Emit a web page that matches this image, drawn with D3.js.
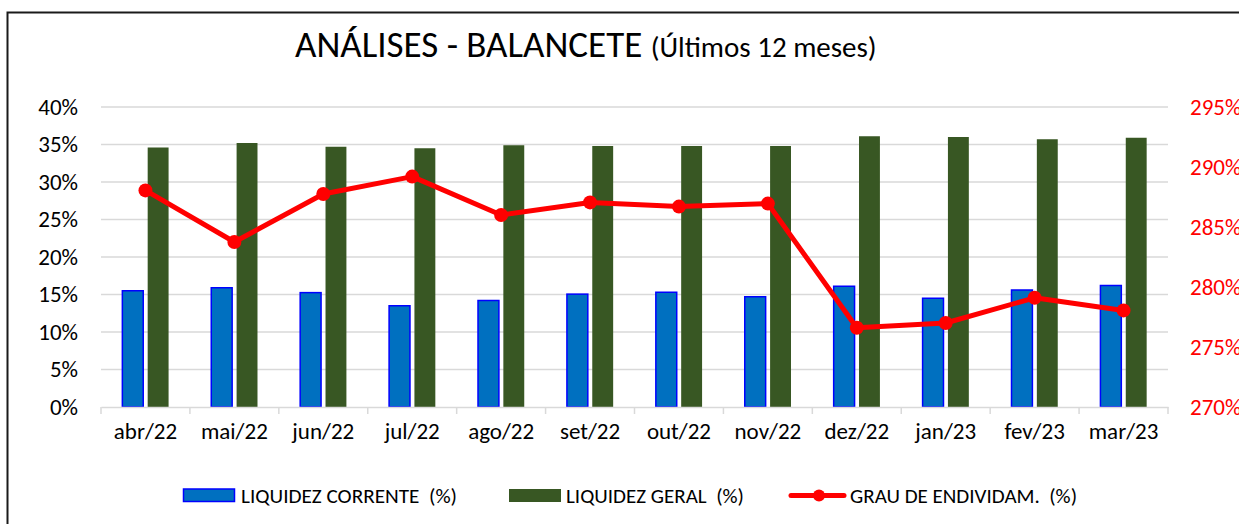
<!DOCTYPE html>
<html>
<head>
<meta charset="utf-8">
<script src="https://cdn.jsdelivr.net/npm/d3@7"></script>
<style>
  body { margin: 0; background: #fff; }
  svg { display: block; font-family: Carlito, Calibri, Lato, sans-serif; }
</style>
</head>
<body>
<svg id="chart"></svg>
<script>
const months = ["abr/22", "mai/22", "jun/22", "jul/22", "ago/22", "set/22",
  "out/22", "nov/22", "dez/22", "jan/23", "fev/23", "mar/23"];
const liquidezCorrente = [15.5, 15.9, 15.25, 13.5, 14.2, 15.05, 15.3, 14.7, 16.1, 14.5, 15.6, 16.2];
const liquidezGeral = [34.6, 35.2, 34.7, 34.5, 34.9, 34.8, 34.8, 34.8, 36.1, 36.0, 35.7, 35.9];
const grauEndividam = [288.05, 283.75, 287.75, 289.2, 286.0, 287.05, 286.7, 286.95, 276.6, 277.0, 279.1, 278.05];
const leftTicks = [0, 5, 10, 15, 20, 25, 30, 35, 40];
const rightTicks = [270, 275, 280, 285, 290, 295];
const seriesNames = ["LIQUIDEZ CORRENTE  (%)", "LIQUIDEZ GERAL  (%)", "GRAU DE ENDIVIDAM.  (%)"];

const colorLUT = {
  blue: "#0070c0",
  blueEdge: "#0000ff",
  green: "#385723",
  red: "#ff0000"
};

var width = 1239, height = 524;
var plot = { left: 101, right: 1168, top: 107, bottom: 407 };
var tickFont = "23px";

var svg = d3.select("#chart")
  .attr("width", width)
  .attr("height", height);

// chart frame
svg.append("path")
  .attr("d", "M7.5," + (height + 5) + "V12.5H" + (width + 5))
  .attr("fill", "none")
  .attr("stroke", "#1a1a1a")
  .attr("stroke-width", 2);

var xScale = d3.scaleBand()
  .domain(months)
  .range([plot.left, plot.right]);

var yLeft = d3.scaleLinear()
  .domain([0, 40])
  .range([plot.bottom, plot.top]);

var yRight = d3.scaleLinear()
  .domain([270, 295])
  .range([plot.bottom, plot.top]);

// gridlines
svg.append("g")
  .selectAll("line")
  .data(leftTicks.slice(1))
  .enter().append("line")
  .attr("x1", plot.left)
  .attr("x2", plot.right)
  .attr("y1", d => yLeft(d))
  .attr("y2", d => yLeft(d))
  .attr("stroke", "#d9d9d9")
  .attr("stroke-width", 1.5);

// left axis
var leftAxis = svg.append("g")
  .attr("transform", "translate(" + plot.left + ",0)")
  .call(d3.axisLeft(yLeft).tickValues(leftTicks).tickSize(0).tickPadding(23)
    .tickFormat(d => d + "%"));
leftAxis.select(".domain").remove();
leftAxis.selectAll("text")
  .attr("fill", "#000")
  .style("font-size", tickFont)
  .style("font-family", "Carlito, Calibri, Lato, sans-serif");

// right axis
var rightAxis = svg.append("g")
  .attr("transform", "translate(" + plot.right + ",0)")
  .call(d3.axisRight(yRight).tickValues(rightTicks).tickSize(0).tickPadding(22)
    .tickFormat(d => d + "%"));
rightAxis.select(".domain").remove();
rightAxis.selectAll("text")
  .attr("fill", colorLUT.red)
  .style("font-size", tickFont)
  .style("font-family", "Carlito, Calibri, Lato, sans-serif");

// bars
var bw = xScale.bandwidth();
var barW = bw * 0.235;
var gap = bw * 0.05;

svg.append("g")
  .selectAll("rect")
  .data(liquidezCorrente)
  .enter().append("rect")
  .attr("x", (d, i) => xScale(months[i]) + bw / 2 - gap / 2 - barW)
  .attr("y", d => yLeft(d))
  .attr("width", barW)
  .attr("height", d => plot.bottom - yLeft(d))
  .attr("fill", colorLUT.blue)
  .attr("stroke", colorLUT.blueEdge)
  .attr("stroke-width", 1.5);

svg.append("g")
  .selectAll("rect")
  .data(liquidezGeral)
  .enter().append("rect")
  .attr("x", (d, i) => xScale(months[i]) + bw / 2 + gap / 2)
  .attr("y", d => yLeft(d))
  .attr("width", barW)
  .attr("height", d => plot.bottom - yLeft(d))
  .attr("fill", colorLUT.green);

// bottom axis
var bottomAxis = svg.append("g")
  .attr("transform", "translate(0," + plot.bottom + ")")
  .call(d3.axisBottom(xScale).tickSize(0).tickPadding(22));
bottomAxis.select(".domain")
  .attr("stroke", "#d9d9d9")
  .attr("stroke-width", 1.5);
bottomAxis.selectAll("text")
  .attr("fill", "#000")
  .attr("dy", "0.45em")
  .style("font-size", tickFont)
  .style("font-family", "Carlito, Calibri, Lato, sans-serif");
svg.append("g")
  .selectAll("line")
  .data(months.concat([null]))
  .enter().append("line")
  .attr("x1", (d, i) => plot.left + i * bw)
  .attr("x2", (d, i) => plot.left + i * bw)
  .attr("y1", plot.bottom)
  .attr("y2", plot.bottom + 7)
  .attr("stroke", "#d9d9d9")
  .attr("stroke-width", 1.5);

// line series
var line = d3.line()
  .x((d, i) => xScale(months[i]) + bw / 2)
  .y(d => yRight(d));

svg.append("path")
  .datum(grauEndividam)
  .attr("d", line)
  .attr("fill", "none")
  .attr("stroke", colorLUT.red)
  .attr("stroke-width", 5)
  .attr("stroke-linejoin", "round");

svg.append("g")
  .selectAll("circle")
  .data(grauEndividam)
  .enter().append("circle")
  .attr("cx", (d, i) => xScale(months[i]) + bw / 2)
  .attr("cy", d => yRight(d))
  .attr("r", 7)
  .attr("fill", colorLUT.red);

// title
var title = svg.append("text")
  .attr("x", 295)
  .attr("y", 57)
  .attr("fill", "#000");
title.append("tspan")
  .style("font-size", "37px")
  .text("ANÁLISES - BALANCETE ");
title.append("tspan")
  .style("font-size", "29px")
  .text("(Últimos 12 meses)");

// legend
var legend = svg.append("g").attr("transform", "translate(0,495.5)");
legend.append("rect")
  .attr("x", 183.5).attr("y", -6.5).attr("width", 51).attr("height", 12.5)
  .attr("fill", colorLUT.blue).attr("stroke", colorLUT.blueEdge).attr("stroke-width", 1.5);
legend.append("rect")
  .attr("x", 509).attr("y", -6.5).attr("width", 52).attr("height", 13)
  .attr("fill", colorLUT.green);
legend.append("line")
  .attr("x1", 791).attr("x2", 844).attr("y1", 0).attr("y2", 0)
  .attr("stroke", colorLUT.red).attr("stroke-width", 5).attr("stroke-linecap", "round");
legend.append("circle")
  .attr("cx", 819).attr("cy", 0).attr("r", 6).attr("fill", colorLUT.red);

var legendX = [241, 566, 850];
var legendW = [216, 178, 227];
legend.selectAll("text.lbl")
  .data(seriesNames)
  .enter().append("text")
  .attr("class", "lbl")
  .attr("x", (d, i) => legendX[i])
  .attr("y", 7)
  .attr("textLength", (d, i) => legendW[i])
  .attr("lengthAdjust", "spacingAndGlyphs")
  .style("font-size", "20px")
  .style("white-space", "pre")
  .attr("fill", "#000")
  .text(d => d);
</script>
</body>
</html>
